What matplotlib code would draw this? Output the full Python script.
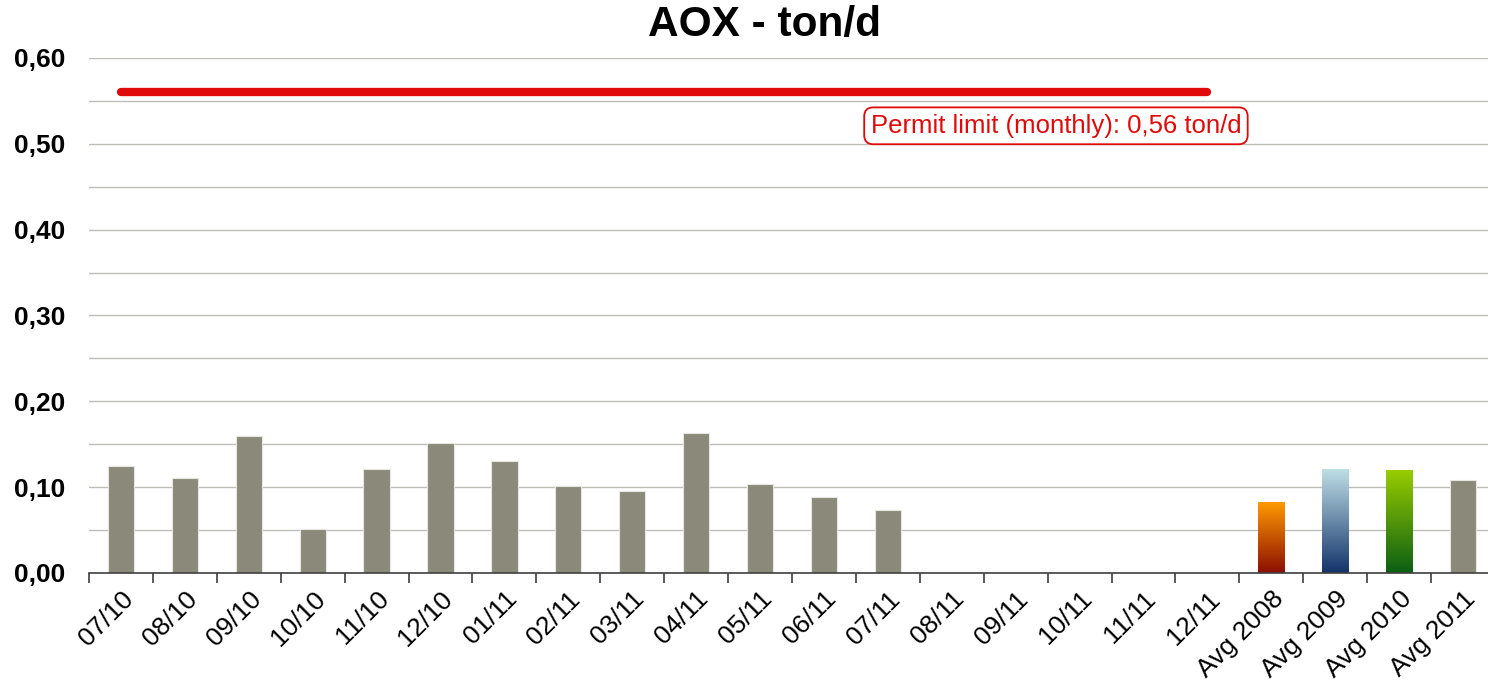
import matplotlib.pyplot as plt
import numpy as np
from matplotlib.colors import LinearSegmentedColormap
from matplotlib.ticker import MultipleLocator

plt.rcParams['font.family'] = ['Liberation Sans', 'DejaVu Sans']

categories = ["07/10", "08/10", "09/10", "10/10", "11/10", "12/10", "01/11", "02/11",
              "03/11", "04/11", "05/11", "06/11", "07/11", "08/11", "09/11", "10/11",
              "11/11", "12/11", "Avg 2008", "Avg 2009", "Avg 2010", "Avg 2011"]
values = [0.125, 0.111, 0.160, 0.051, 0.121, 0.151, 0.130, 0.101,
          0.095, 0.163, 0.104, 0.089, 0.073, 0, 0, 0,
          0, 0, 0.082, 0.121, 0.119, 0.108]
permit_limit = 0.56
permit_span = ("07/10", "12/11")
permit_label = "Permit limit (monthly): 0,56 ton/d"

# gradients for the yearly average bars (top colour, bottom colour)
gradients = {
    "Avg 2008": ("#FF9900", "#8B0E00"),
    "Avg 2009": ("#BFDFE6", "#13336B"),
    "Avg 2010": ("#99CC00", "#0B5E14"),
}

gray = "#8B8A7A"

fig = plt.figure(figsize=(14.88, 6.87), dpi=100)
ax = fig.add_axes([89 / 1488, 1 - 573 / 687, (1495 - 89) / 1488, (573 - 58) / 687])

x = np.arange(len(categories))
bars = ax.bar(x, values, width=0.41, color=gray, edgecolor="#E6E6E0", linewidth=0.8, zorder=3)

for bar, cat in zip(bars, categories):
    if cat in gradients:
        top, bottom = gradients[cat]
        cmap = LinearSegmentedColormap.from_list(cat, [bottom, top])
        bar.set_facecolor("none")
        bar.set_edgecolor("none")
        x0, y0 = bar.get_x(), bar.get_y()
        w, h = bar.get_width(), bar.get_height()
        grad = np.linspace(0, 1, 256).reshape(-1, 1)
        ax.imshow(grad, extent=[x0, x0 + w, y0, y0 + h], origin="lower",
                  aspect="auto", cmap=cmap, zorder=3)

i0, i1 = categories.index(permit_span[0]), categories.index(permit_span[1])
ax.plot([i0, i1], [permit_limit, permit_limit], color="#E00A0A", lw=6,
        solid_capstyle="round", zorder=4)
ax.text(14.63, 0.521, permit_label, color="#E00A0A", fontsize=18.5,
        ha="center", va="center", zorder=5,
        bbox=dict(boxstyle="round,pad=0.25,rounding_size=0.35", fc="white",
                  ec="#E00A0A", lw=1.3))

ax.set_xlim(-0.5, len(categories) - 0.5)
ax.set_ylim(0, 0.60)
ax.yaxis.set_major_locator(MultipleLocator(0.1))
ax.yaxis.set_minor_locator(MultipleLocator(0.05))
ax.set_yticks(np.arange(0, 0.61, 0.1))
ax.set_yticklabels([f"{v:.2f}".replace(".", ",") for v in np.arange(0, 0.61, 0.1)],
                   fontsize=19, fontweight="bold")
ax.tick_params(axis="y", which="both", length=0, pad=17)
ax.grid(axis="y", which="both", color="#BDBDB5", lw=1.0, zorder=0)

ax.set_xticks(x)
ax.set_xticklabels(categories, rotation=45, ha="right", rotation_mode="anchor",
                   fontsize=19)
ax.tick_params(axis="x", which="major", length=0, pad=10)
ax.set_xticks(np.arange(-0.5, len(categories), 1), minor=True)
ax.tick_params(axis="x", which="minor", length=7, width=1.2, color="#404040",
               direction="out")

for s in ("left", "right", "top"):
    ax.spines[s].set_visible(False)
ax.spines["bottom"].set_color("#404040")
ax.spines["bottom"].set_linewidth(1.2)
ax.spines["bottom"].set_zorder(6)

fig.text(764 / 1488, 1 - 25 / 687, "AOX - ton/d", ha="center", va="center",
         fontsize=30.5, fontweight="bold")

fig.savefig("out.png", dpi=100)
